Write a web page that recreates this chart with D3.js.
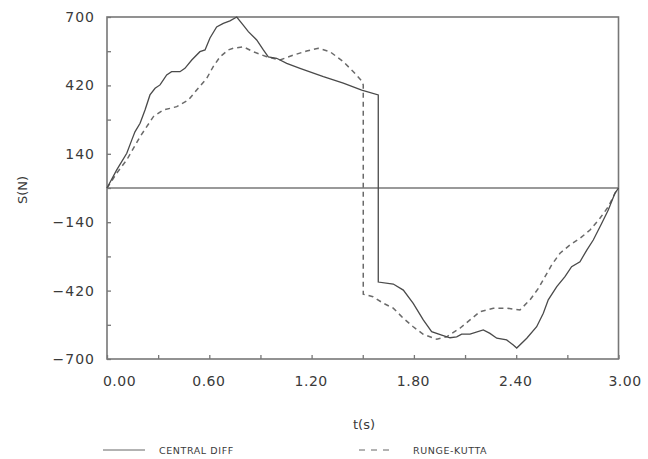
<!DOCTYPE html>
<html>
<head>
<meta charset="utf-8">
<script src="https://cdn.jsdelivr.net/npm/d3@7"></script>
<style>
  html, body { margin: 0; padding: 0; background: #fff; }
  svg { display: block; }
  text { font-family: "DejaVu Sans", "Liberation Sans", sans-serif; fill: #3a3a3a; }
</style>
</head>
<body>
<svg id="chart" width="648" height="459"></svg>
<script>
// ---- data ----
const centralT = [0, 0.057, 0.116, 0.145, 0.164, 0.194, 0.223, 0.252, 0.282, 0.311, 0.350, 0.379, 0.428, 0.457, 0.497, 0.545, 0.575, 0.604, 0.643, 0.682, 0.721, 0.761, 0.799, 0.829, 0.878, 0.917, 0.946, 0.995, 1.054, 1.132, 1.269, 1.386, 1.494, 1.591, 1.591, 1.679, 1.738, 1.796, 1.855, 1.904, 1.963, 2.012, 2.051, 2.080, 2.129, 2.207, 2.246, 2.286, 2.344, 2.383, 2.403, 2.462, 2.520, 2.559, 2.588, 2.638, 2.686, 2.725, 2.774, 2.814, 2.852, 2.901, 2.940, 2.979, 3.0];
const centralS = [0, 74, 142, 196, 230, 265, 319, 381, 408, 422, 463, 476, 476, 490, 524, 558, 565, 614, 659, 674, 684, 700, 667, 640, 606, 565, 537, 531, 510, 490, 456, 429, 401, 381, -385, -393, -418, -472, -540, -588, -602, -613, -609, -598, -598, -581, -595, -615, -622, -643, -655, -615, -568, -513, -458, -404, -363, -322, -302, -254, -213, -145, -90, -22, 0];

const rungeT = [0, 0.018, 0.057, 0.116, 0.194, 0.233, 0.272, 0.330, 0.409, 0.477, 0.526, 0.585, 0.623, 0.663, 0.711, 0.741, 0.799, 0.858, 0.937, 1.015, 1.093, 1.171, 1.239, 1.308, 1.386, 1.445, 1.494, 1.503, 1.503, 1.560, 1.621, 1.679, 1.738, 1.796, 1.855, 1.934, 1.992, 2.070, 2.129, 2.188, 2.266, 2.344, 2.422, 2.481, 2.530, 2.569, 2.608, 2.657, 2.716, 2.774, 2.833, 2.891, 2.940, 2.989, 3.0];
const rungeS = [0, 19, 61, 115, 210, 251, 292, 319, 333, 360, 401, 449, 497, 537, 565, 572, 578, 558, 537, 524, 544, 561, 572, 558, 517, 476, 438, 422, -435, -445, -472, -492, -533, -568, -599, -619, -609, -574, -540, -506, -492, -492, -499, -458, -411, -363, -315, -267, -233, -206, -172, -124, -77, -8, 0];

const xTicks = [0, 0.3, 0.6, 0.9, 1.2, 1.5, 1.8, 2.1, 2.4, 2.7, 3.0];
const xTickLabels = [0, 0.6, 1.2, 1.8, 2.4, 3.0];
const yTicks = [700, 560, 420, 280, 140, 0, -140, -280, -420, -560, -700];
const yTickLabels = [700, 420, 140, -140, -420, -700];
const seriesNames = ["CENTRAL DIFF", "RUNGE-KUTTA"];

// ---- layout ----
const svg = d3.select("#chart");
const m = { left: 107, right: 618.5, top: 17, bottom: 359 };
const x = d3.scaleLinear().domain([0, 3]).range([m.left, m.right]);
const y = d3.scaleLinear().domain([-700, 700]).range([m.bottom, m.top]);

const frameColor = "#777";
const lineColor = "#4a4a4a";

// y axis (ticks inside)
const yAxis = d3.axisLeft(y)
  .tickValues(yTicks)
  .tickSizeInner(-4).tickSizeOuter(0)
  .tickPadding(12)
  .tickFormat(d => yTickLabels.includes(d) ? d3.format("d")(d) : "");
const gy = svg.append("g").attr("transform", `translate(${m.left},0)`).call(yAxis);
gy.select(".domain").remove();
gy.selectAll(".tick line").attr("stroke", frameColor).attr("stroke-width", 1.3);
gy.selectAll(".tick text").style("font-size", "14px").style("letter-spacing", "1px").attr("fill", "#3a3a3a");

// x axis (ticks inside)
const xAxis = d3.axisBottom(x)
  .tickValues(xTicks)
  .tickSizeInner(-4).tickSizeOuter(0)
  .tickPadding(17)
  .tickFormat(d => xTickLabels.some(v => Math.abs(v - d) < 1e-9) ? d3.format(".2f")(d) : "");
const gx = svg.append("g").attr("transform", `translate(0,${m.bottom})`).call(xAxis);
gx.select(".domain").remove();
gx.selectAll(".tick line").attr("stroke", frameColor).attr("stroke-width", 1.3);
gx.selectAll(".tick text").style("font-size", "14px").style("letter-spacing", "0.5px").attr("fill", "#555")
  .attr("dx", d => d === 0 ? 12 : (d === 3 ? 6 : -1));

// frame
svg.append("rect")
  .attr("x", m.left).attr("y", m.top)
  .attr("width", m.right - m.left).attr("height", m.bottom - m.top)
  .attr("fill", "none").attr("stroke", frameColor).attr("stroke-width", 1.6);

// zero line
svg.append("line")
  .attr("x1", x(0)).attr("x2", x(3)).attr("y1", y(0)).attr("y2", y(0))
  .attr("stroke", frameColor).attr("stroke-width", 1.6);

// lines
const line = d3.line().x(d => x(d[0])).y(d => y(d[1]));
const centralData = centralT.map((t, i) => [t, centralS[i]]);
const rungeData = rungeT.map((t, i) => [t, rungeS[i]]);

svg.append("path").datum(rungeData).attr("d", line)
  .attr("fill", "none").attr("stroke", "#6a6a6a").attr("stroke-width", 1.5)
  .attr("stroke-dasharray", "5,4");
svg.append("path").datum(centralData).attr("d", line)
  .attr("fill", "none").attr("stroke", lineColor).attr("stroke-width", 1.3);

// axis titles
svg.append("text").attr("x", 364).attr("y", 429).attr("text-anchor", "middle")
  .style("font-size", "13px").text("t(s)");
svg.append("text").attr("transform", "translate(27,190) rotate(-90)")
  .attr("text-anchor", "middle").style("font-size", "13px").text("S(N)");

// legend
const leg = svg.append("g");
leg.append("line").attr("x1", 103).attr("x2", 145).attr("y1", 450).attr("y2", 450)
  .attr("stroke", "#666").attr("stroke-width", 1);
leg.append("text").attr("x", 159).attr("y", 454).style("font-size", "9.5px").style("letter-spacing", "0.6px")
  .text(seriesNames[0]);
leg.append("line").attr("x1", 359).attr("x2", 394).attr("y1", 450).attr("y2", 450)
  .attr("stroke", "#666").attr("stroke-width", 1).attr("stroke-dasharray", "6,6");
leg.append("text").attr("x", 413).attr("y", 454).style("font-size", "9.5px").style("letter-spacing", "0.6px")
  .text(seriesNames[1]);
</script>
</body>
</html>
